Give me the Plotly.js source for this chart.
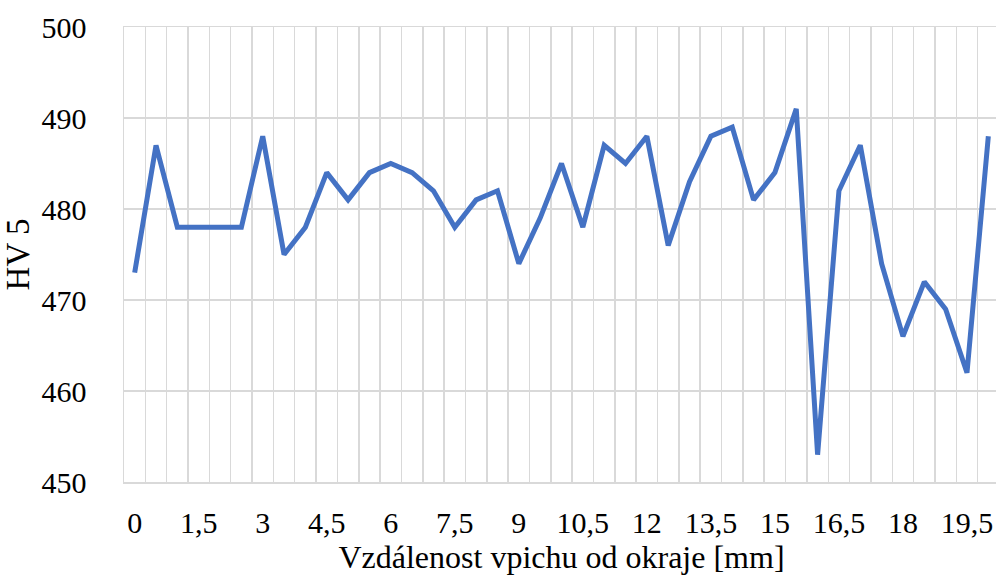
<!DOCTYPE html>
<html>
<head>
<meta charset="utf-8">
<script src="https://cdn.plot.ly/plotly-3.0.1.min.js"></script>
<style>
html,body{margin:0;padding:0;overflow:hidden;background:#fff;}
#chart{width:1000px;height:576px;}
</style>
</head>
<body>
<div id="chart"></div>
<script>
// Distance from edge [mm]
const distance = [0, 0.5, 1, 1.5, 2, 2.5, 3, 3.5, 4, 4.5, 5, 5.5, 6, 6.5, 7, 7.5, 8, 8.5, 9, 9.5,
                  10, 10.5, 11, 11.5, 12, 12.5, 13, 13.5, 14, 14.5, 15, 15.5, 16, 16.5, 17, 17.5, 18, 18.5, 19, 19.5, 20];
// Hardness HV 5
const hardness = [473, 487, 478, 478, 478, 478, 488, 475, 478, 484, 481, 484, 485, 484, 482, 478, 481, 482, 474, 479,
                  485, 478, 487, 485, 488, 476, 483, 488, 489, 481, 484, 491, 453, 482, 487, 474, 466, 472, 469, 462, 488];
const xTitle = "Vzdálenost vpichu od okraje [mm]";
const yTitle = "HV 5";

const gridColor = "#d9d9d9";
const font = "Liberation Serif, Times New Roman, serif";

Plotly.newPlot("chart", [{
  x: distance,
  y: hardness,
  type: "scatter",
  mode: "lines",
  line: {color: "#4472C4", width: 5},
  hoverinfo: "x+y"
}], {
  width: 1000,
  height: 576,
  separators: ", ",
  margin: {l: 124, r: 1, t: 27, b: 94},
  paper_bgcolor: "#fff",
  plot_bgcolor: "#fff",
  showlegend: false,
  font: {family: font, color: "#000", size: 30},
  xaxis: {
    range: [-0.25, 20.25],
    tickmode: "linear",
    tick0: 0,
    dtick: 1.5,
    showgrid: false,
    zeroline: false,
    showline: true,
    mirror: true,
    linecolor: gridColor,
    linewidth: 1.5,
    ticks: "",
    ticklabelstandoff: 13,
    tickfont: {family: font, size: 30, color: "#000"},
    minor: {tickmode: "linear", tick0: -0.25, dtick: 0.5, showgrid: true, gridcolor: gridColor, gridwidth: 1.5, ticks: ""},
    title: {text: xTitle, font: {family: font, size: 32, color: "#000"}, standoff: 8}
  },
  yaxis: {
    range: [450, 500],
    tickmode: "linear",
    tick0: 450,
    dtick: 10,
    showgrid: true,
    gridcolor: gridColor,
    gridwidth: 1.5,
    zeroline: false,
    showline: true,
    mirror: true,
    linecolor: gridColor,
    linewidth: 1.5,
    ticks: "",
    ticklabelstandoff: 30,
    tickfont: {family: font, size: 30, color: "#000"},
    title: {text: yTitle, font: {family: font, size: 33, color: "#000"}, standoff: 8}
  }
}, {displayModeBar: false, staticPlot: true});
</script>
</body>
</html>
